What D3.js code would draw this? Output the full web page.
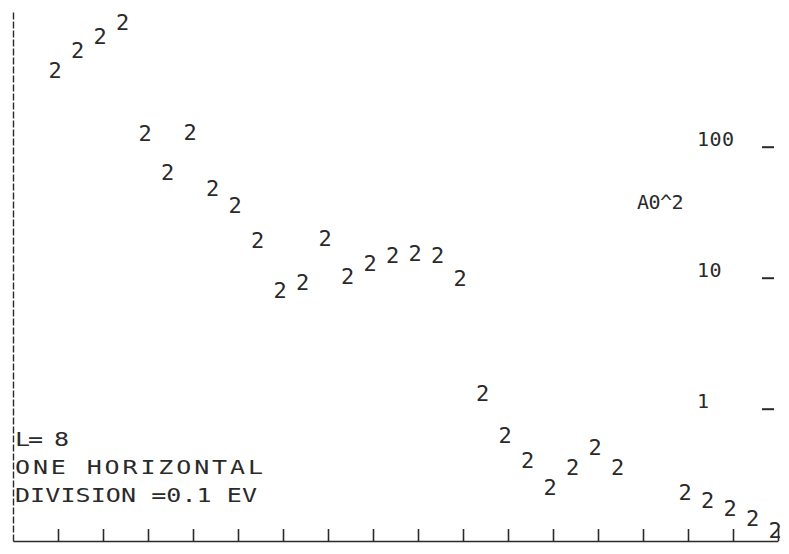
<!DOCTYPE html>
<html>
<head>
<meta charset="utf-8">
<script src="https://cdn.jsdelivr.net/npm/d3@7"></script>
<style>
  html, body { margin: 0; padding: 0; background: #fff; }
  svg { display: block; }
  text { font-family: "DejaVu Sans Mono", "Liberation Mono", monospace; fill: #2a2a2a; }
</style>
</head>
<body>
<svg id="chart" width="789" height="554"></svg>
<script>
// Energies (eV) of plotted points, one horizontal division = 0.1 eV
const energies = [0.10, 0.15, 0.20, 0.25, 0.30, 0.35, 0.40, 0.45, 0.50, 0.55,
                  0.60, 0.65, 0.70, 0.75, 0.80, 0.85, 0.90, 0.95, 1.00, 1.05,
                  1.10, 1.15, 1.20, 1.25, 1.30, 1.35, 1.50, 1.55, 1.60, 1.65, 1.70];
// Cross sections (A0^2), L = 8
const crossSections = [334, 476, 608, 778, 110, 56, 112, 42, 31, 17,
                       7.0, 8.0, 17.5, 9.0, 11.2, 12.9, 13.4, 12.9, 8.6, 1.14,
                       0.55, 0.35, 0.22, 0.31, 0.44, 0.31, 0.20, 0.175, 0.152, 0.127, 0.103];
const pointSymbol = "2";
const xTickValues = [0.1, 0.2, 0.3, 0.4, 0.5, 0.6, 0.7, 0.8, 0.9, 1.0, 1.1, 1.2, 1.3, 1.4, 1.5, 1.6, 1.7];
const yTickValues = [1, 10, 100];
const yTickLabels = ["1", "10", "100"];
const unitLabel = "A0^2";
const noteLines = ["L= 8", "ONE HORIZONTAL", "DIVISION =0.1 EV"];
const noteWidths = [54, 248, 242];

const svg = d3.select("#chart");
const x = d3.scaleLinear().domain([0, 1.7]).range([13, 778]);
const y = d3.scaleLog().domain([1, 100]).range([408.7, 146.7]);
const axisY = 541;

const ink = "#2a2a2a";

// Bottom axis with upward ticks
const gx = svg.append("g")
  .attr("transform", `translate(0,${axisY})`)
  .call(d3.axisBottom(x).tickValues(xTickValues).tickSizeInner(-12).tickSizeOuter(0).tickFormat(""));
gx.select(".domain").attr("stroke", ink).attr("stroke-width", 1.6);
gx.selectAll(".tick line").attr("stroke", ink).attr("stroke-width", 1.6);

// Left axis line (no ticks)
const yLine = d3.scaleLinear().domain([0, 1]).range([axisY, 12]);
const gl = svg.append("g")
  .attr("transform", `translate(${x(0)},0)`)
  .call(d3.axisLeft(yLine).tickValues([]).tickSizeOuter(0));
gl.select(".domain").attr("stroke", ink).attr("stroke-width", 1.4).attr("stroke-dasharray", "7,2");

// Right-side log ticks: "_" marks with labels to their left
const gy = svg.append("g")
  .attr("transform", "translate(774,0)")
  .call(d3.axisLeft(y).tickValues(yTickValues).tickSize(12)
        .tickFormat(d => yTickLabels[yTickValues.indexOf(d)]));
gy.select(".domain").remove();
gy.selectAll(".tick line").attr("stroke", ink).attr("stroke-width", 2);
gy.selectAll(".tick text")
  .attr("x", -77).attr("dy", 0).attr("y", -1)
  .attr("text-anchor", "start")
  .style("font-size", "20px").style("letter-spacing", "0.5px")
  .attr("fill", ink);

svg.append("text")
  .attr("x", 637).attr("y", 209)
  .style("font-size", "20px").style("letter-spacing", "-0.5px")
  .text(unitLabel);

// Notes at lower left (plotter characters are wide: stretch horizontally)
const sx = 1.25;
svg.append("g")
  .attr("transform", `translate(15,0) scale(${sx},1)`)
  .selectAll("text")
  .data(noteLines)
  .join("text")
  .attr("x", 0)
  .attr("y", (d, i) => 446 + i * 28)
  .attr("textLength", (d, i) => noteWidths[i] / sx)
  .attr("lengthAdjust", "spacing")
  .style("font-size", "20px")
  .text(d => d);

// Data points drawn as plotter character "2"
svg.append("g").selectAll("text")
  .data(energies.map((e, i) => ({ e, v: crossSections[i] })))
  .join("text")
  .attr("x", d => x(d.e) - 3)
  .attr("y", d => y(d.v))
  .attr("text-anchor", "middle")
  .style("font-size", "22px")
  .text(pointSymbol);
</script>
</body>
</html>
